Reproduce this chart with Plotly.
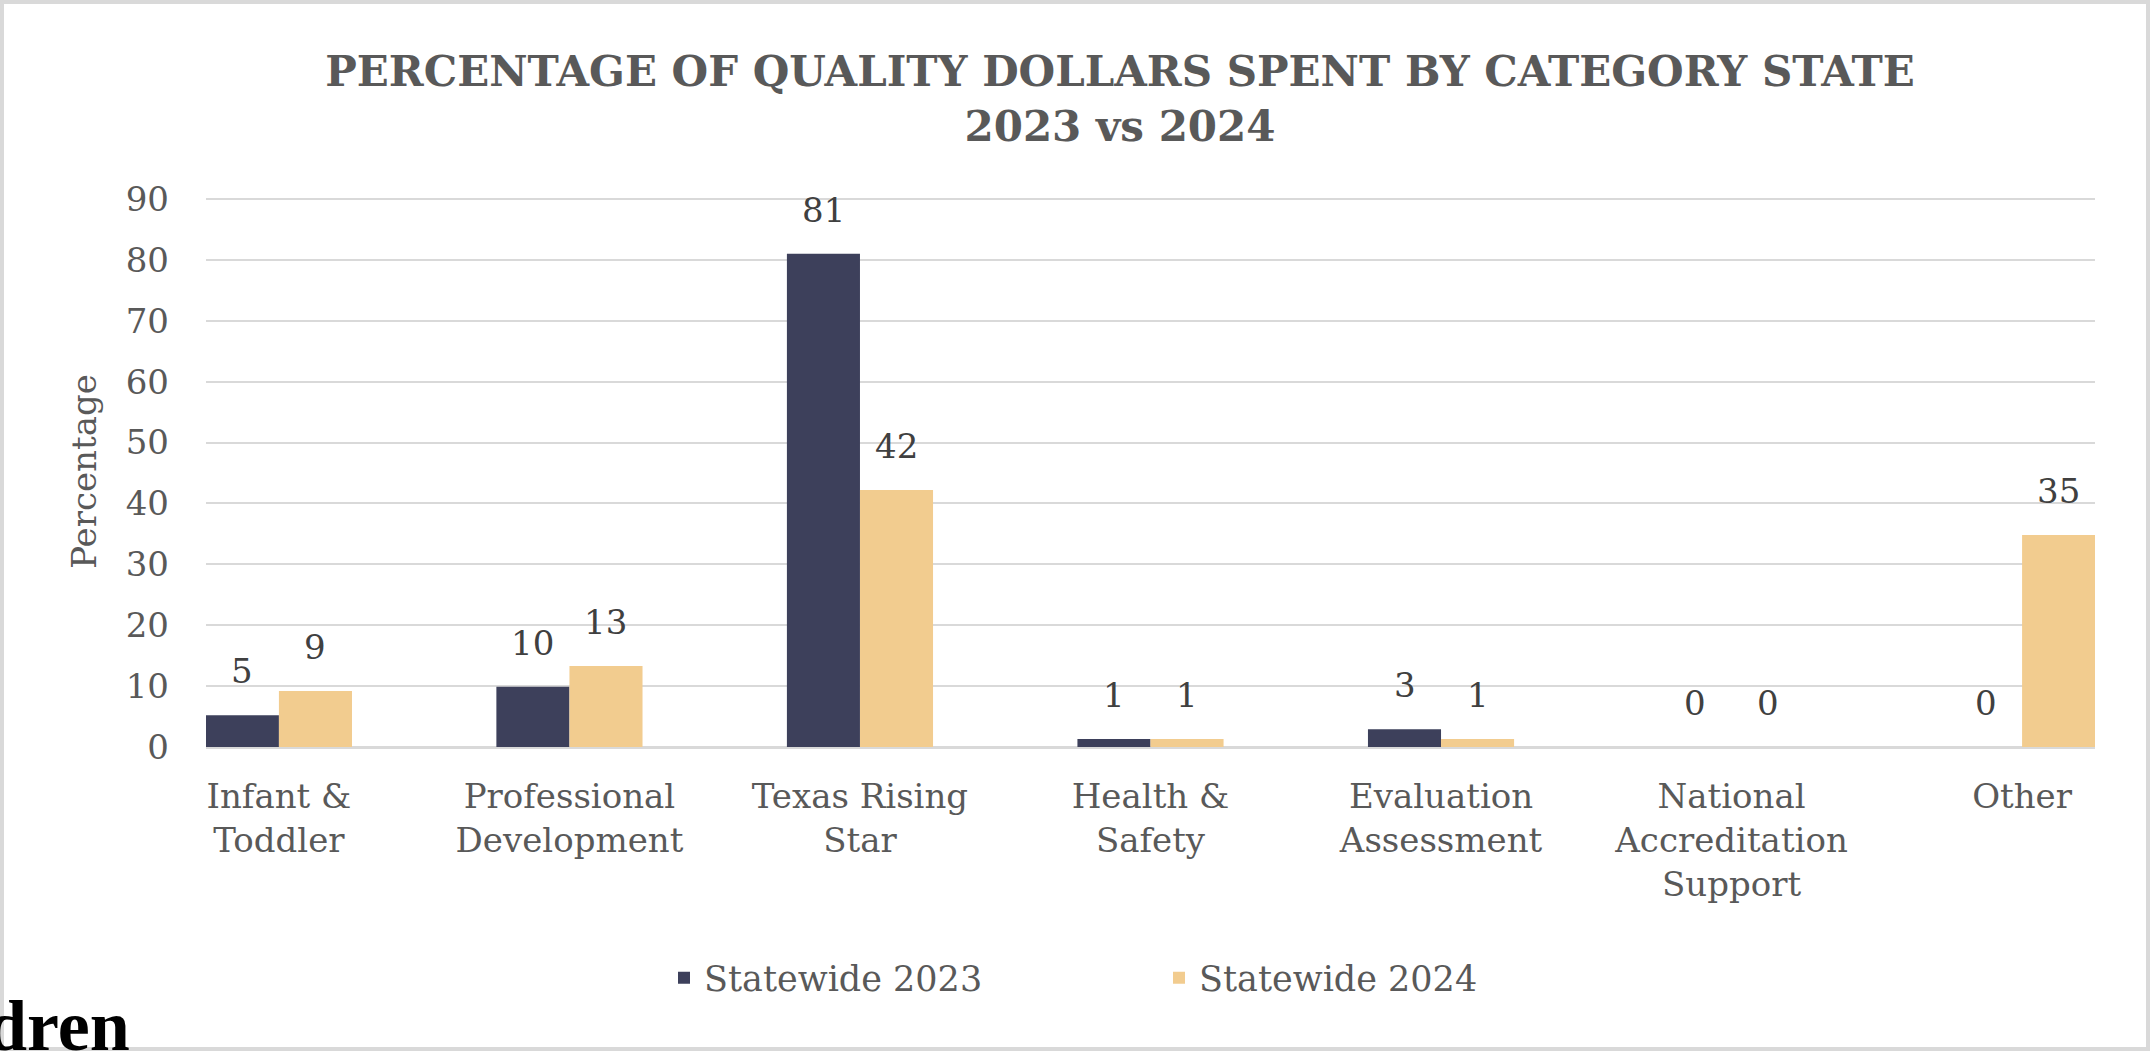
import plotly.graph_objects as go

# categories and values
categories = ["Infant & Toddler", "Professional Development", "Texas Rising Star",
              "Health & Safety", "Evaluation Assessment",
              "National Accreditation Support", "Other"]
tick_labels = ["Infant &<br>Toddler", "Professional<br>Development", "Texas Rising<br>Star",
               "Health &<br>Safety", "Evaluation<br>Assessment",
               "National<br>Accreditation<br>Support", "Other"]
statewide_2023 = [5.2, 9.9, 81.0, 1.3, 2.9, 0, 0]
statewide_2024 = [9.2, 13.3, 42.2, 1.3, 1.3, 0, 34.8]
series_names = ["Statewide 2023", "Statewide 2024"]
y_ticks = [0, 10, 20, 30, 40, 50, 60, 70, 80, 90]

NAVY = "#3d405b"
SAND = "#f2cc8f"
GREY_TXT = "#595959"
GRID = "#d9d9d9"
FONT = "DejaVu Serif"

W, H = 2150, 1051
L, R, T, B = 206, 55, 196, 304
pw, ph = W - L - R, H - T - B

# page pixels -> paper coords (for the frame / stray text)
def px_x(px):
    return (px - L) / pw

def px_y(py):
    return (H - B - py) / ph

fig = go.Figure()
for name, vals, col in [(series_names[0], statewide_2023, NAVY),
                        (series_names[1], statewide_2024, SAND)]:
    fig.add_trace(go.Bar(x=categories, y=vals, name=name, marker_color=col,
                         marker_line_width=0))

# data labels, sat above each bar like excel does
ann = []
for vals, shift in [(statewide_2023, -36.5), (statewide_2024, 36.5)]:
    for c, v in zip(categories, vals):
        ann.append(dict(x=c, y=v, xref="x", yref="y", text=str(int(round(v))),
                        showarrow=False, xshift=shift, yshift=44, yanchor="middle",
                        font=dict(family=FONT, size=34, color="#404040")))

# cut-off logo text in the bottom left corner
ann.append(dict(x=px_x(132), y=px_y(1068), xref="paper", yref="paper", text="dren",
                showarrow=False, xanchor="right", yanchor="bottom",
                font=dict(family="Liberation Serif", size=72, color="black", weight=700)))

fig.update_layout(
    width=W, height=H,
    margin=dict(l=L, r=R, t=T, b=B, autoexpand=False),
    paper_bgcolor="white", plot_bgcolor="white",
    barmode="group", bargap=0.497, bargroupgap=0,
    title=dict(text="PERCENTAGE OF QUALITY DOLLARS SPENT BY CATEGORY STATE<br>2023 vs 2024",
               x=1120 / W, xanchor="center", xref="container",
               y=1 - 86 / H, yanchor="top", yref="container",
               font=dict(family=FONT, size=42, color=GREY_TXT, weight=700)),
    xaxis=dict(tickvals=categories, ticktext=tick_labels, range=[-0.251, 6.251],
               showgrid=False, showline=False, ticks="", automargin=False,
               ticklabelstandoff=26,
               tickfont=dict(family=FONT, size=34, color=GREY_TXT)),
    yaxis=dict(range=[0, 90.5], tickvals=y_ticks, showgrid=True, gridcolor=GRID, gridwidth=2,
               zeroline=True, zerolinecolor=GRID, zerolinewidth=3,
               ticks="", ticklabelstandoff=36, automargin=False,
               tickfont=dict(family=FONT, size=34, color=GREY_TXT),
               title=dict(text="Percentage", standoff=18,
                          font=dict(family=FONT, size=34, color=GREY_TXT))),
    legend=dict(orientation="h", x=px_x(664), xanchor="left", y=px_y(978), yanchor="middle",
                entrywidth=450, font=dict(family=FONT, size=35, color=GREY_TXT),
                bgcolor="rgba(0,0,0,0)"),
    annotations=ann,
    shapes=[dict(type="rect", xref="paper", yref="paper",
                 x0=px_x(2), x1=px_x(2148), y0=px_y(1049), y1=px_y(2),
                 line=dict(color=GRID, width=4), layer="below")],
)

# drop the browser's default body margin so the figure sits at the page corner
fig.write_html("out.html", config={"displayModeBar": False},
               post_script="document.body.style.margin = '0';")
